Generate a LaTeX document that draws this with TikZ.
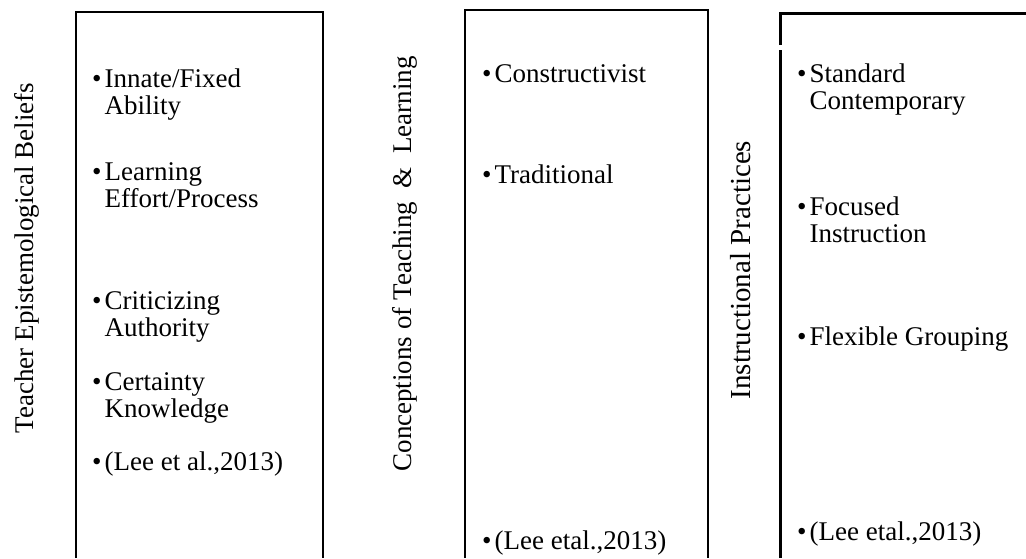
\documentclass[tikz,border=0pt]{standalone}
\usepackage{fontspec}
\setmainfont{Liberation Serif}
\newcommand{\bulletlist}[1]{\begin{tabular}[t]{@{}l@{}l@{}}\textbullet\hspace{3pt} & #1\end{tabular}}
\tikzset{
  boxline/.style={line width=2pt, black},
  boxthick/.style={line width=3pt, black},
  item/.style={anchor=base west, inner sep=0pt, font=\fontsize{27}{27}\selectfont},
  vlabel/.style={anchor=base, rotate=90, inner sep=0pt, font=\fontsize{27}{27}\selectfont}
}
\begin{document}
\begin{tikzpicture}[x=1pt,y=-1pt]
\useasboundingbox (0,0) rectangle (1026,558);
% boxes (open at the bottom)
\draw[boxline] (76,558) |- (323,12) -- (323,558);
\draw[boxline] (465,558) |- (708,10) -- (708,558);
\draw[boxthick] (780,558) -- (780,50);
\draw[boxthick] (780,45) |- (1026,13);
% vertical labels
\node[vlabel] (teb) at (33,258) {Teacher Epistemological Beliefs};
\node[vlabel] (ctl) at (411,264) {Conceptions of Teaching \ \& \ Learning};
\node[vlabel, font=\fontsize{29}{29}\selectfont] (ip) at (750,270) {Instructional Practices};
% box 1 items
\node[item] (a1) at (92,87) {\bulletlist{Innate/Fixed\\ & Ability}};
\node[item] (a2) at (92,180) {\bulletlist{Learning\\ & Effort/Process}};
\node[item] (a3) at (92,309) {\bulletlist{Criticizing\\ & Authority}};
\node[item] (a4) at (92,390) {\bulletlist{Certainty\\ & Knowledge}};
\node[item] (a5) at (92,470) {\bulletlist{(Lee et al.,2013)}};
% box 2 items
\node[item] (b1) at (482,82) {\bulletlist{Constructivist}};
\node[item] (b2) at (482,183) {\bulletlist{Traditional}};
\node[item] (b3) at (482,549) {\bulletlist{(Lee etal.,2013)}};
% box 3 items
\node[item] (c1) at (797,82) {\bulletlist{Standard\\ & Contemporary}};
\node[item] (c2) at (797,215) {\bulletlist{Focused\\ & Instruction}};
\node[item] (c3) at (797,345) {\bulletlist{Flexible Grouping}};
\node[item] (c4) at (797,540) {\bulletlist{(Lee etal.,2013)}};
\end{tikzpicture}
\end{document}
